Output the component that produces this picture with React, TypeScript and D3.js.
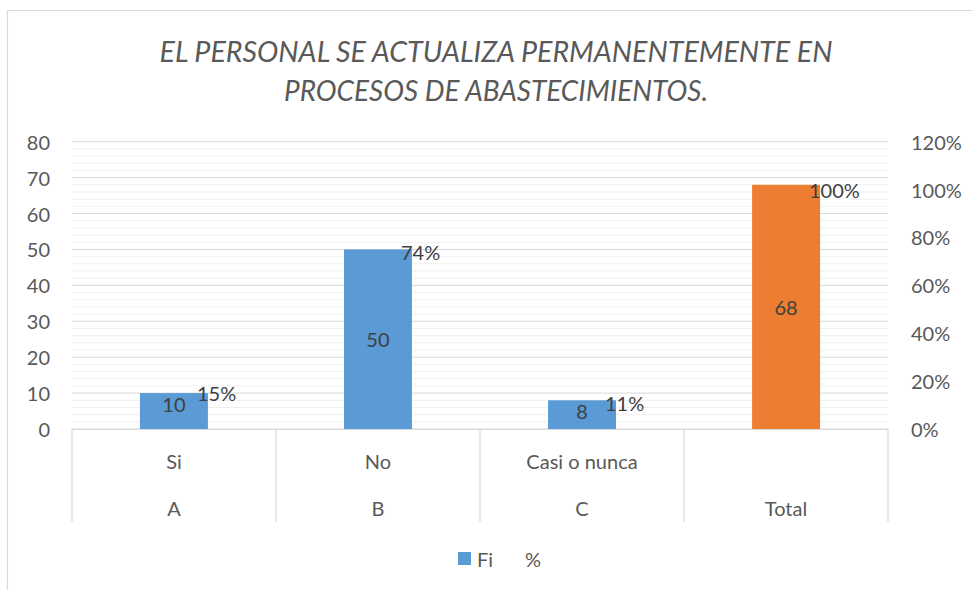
import React from "react";
import * as d3 from "d3";

const titleLines = ["EL PERSONAL SE ACTUALIZA PERMANENTEMENTE EN", "PROCESOS DE ABASTECIMIENTOS."];
const categories = ["Si", "No", "Casi o nunca", "Total"];
const innerLabels = ["Si", "No", "Casi o nunca", ""];
const groups = ["A", "B", "C", "Total"];
const fiValues = [10, 50, 8, 68];
const pctValues = [0.15, 0.74, 0.11, 1.0];
const pctLabels = ["15%", "74%", "11%", "100%"];
const leftTicks = [0, 10, 20, 30, 40, 50, 60, 70, 80];
const rightTicks = [0, 0.2, 0.4, 0.6, 0.8, 1.0, 1.2];
const legendItems = ["Fi", "%"];

const W = 972;
const H = 590;
const plot = { left: 72, right: 888, top: 141.7, bottom: 429 };
const FONT = "Lato, 'Open Sans', sans-serif";
const TXT = "#595959";
const LBL = "#404040";
const BLUE = "#5B9BD5";
const ORANGE = "#ED7D31";
const FS = 20;

export default function App() {
  const x = d3.scaleBand<string>().domain(categories).range([plot.left, plot.right]).paddingInner(0.667).paddingOuter(0.333);
  const xb = d3.scaleBand<string>().domain(categories).range([plot.left, plot.right]);
  const y = d3.scaleLinear().domain([0, 80]).range([plot.bottom, plot.top]);
  const y2 = d3.scaleLinear().domain([0, 1.2]).range([plot.bottom, plot.top]);
  const minor = d3.range(0, 81, 2).filter((v) => v % 10 !== 0);
  const axisBottom = 522;

  return (
    <svg width={W} height={H} style={{ position: "absolute", left: 0, top: 0, background: "#fff" }} fontFamily={FONT}>
      <rect x={0} y={0} width={W} height={H} fill="#fff" />
      <path d={`M7.5,${H} V10.5 H${W}`} fill="none" stroke="#d9d9d9" strokeWidth={1.2} />
      {titleLines.map((t, i) => (
        <text key={i} x={496} y={62 + i * 38.5} textAnchor="middle" fontSize={28} fontStyle="italic" fill={TXT}
          textLength={i === 0 ? 673 : 424} lengthAdjust="spacingAndGlyphs">{t}</text>
      ))}
      {minor.map((v) => (
        <line key={"m" + v} x1={plot.left} x2={plot.right} y1={y(v)} y2={y(v)} stroke="#f0f0f0" strokeWidth={1} />
      ))}
      {leftTicks.map((v) => (
        <line key={"g" + v} x1={plot.left} x2={plot.right} y1={y(v)} y2={y(v)} stroke="#d9d9d9" strokeWidth={1} />
      ))}
      {leftTicks.map((v) => (
        <text key={"l" + v} x={50} y={y(v)} textAnchor="end" dominantBaseline="central" fontSize={FS} fill={TXT}>{v}</text>
      ))}
      {rightTicks.map((v) => (
        <text key={"r" + v} x={911} y={y2(v)} textAnchor="start" dominantBaseline="central" fontSize={FS} fill={TXT}>
          {d3.format(".0%")(v)}
        </text>
      ))}
      {categories.map((c, i) => (
        <rect key={"b" + c} x={x(c)} y={y(fiValues[i])} width={x.bandwidth()} height={plot.bottom - y(fiValues[i])}
          fill={i === categories.length - 1 ? ORANGE : BLUE} />
      ))}
      {categories.map((c, i) => {
        const top = y(fiValues[i]);
        const h = plot.bottom - top;
        const cy = h < 40 ? top + 11 : top + h / 2;
        return (
          <text key={"v" + c} x={x(c)! + x.bandwidth() / 2} y={cy} textAnchor="middle" dominantBaseline="central" fontSize={FS} fill={LBL}>
            {fiValues[i]}
          </text>
        );
      })}
      {categories.map((c, i) => (
        <text key={"p" + c} x={xb(c)! + xb.bandwidth() / 2 + 23} y={y2(pctValues[i])} textAnchor="start" dominantBaseline="central" fontSize={FS} fill={LBL}>
          {pctLabels[i]}
        </text>
      ))}
      <line x1={plot.left} x2={plot.right} y1={plot.bottom + 0.5} y2={plot.bottom + 0.5} stroke="#d9d9d9" strokeWidth={1.2} />
      {d3.range(categories.length + 1).map((i) => {
        const xx = plot.left + i * xb.step();
        return <line key={"d" + i} x1={xx} x2={xx} y1={plot.bottom} y2={axisBottom} stroke="#d9d9d9" strokeWidth={1.2} />;
      })}
      {categories.map((c, i) => (
        <text key={"c" + c} x={xb(c)! + xb.bandwidth() / 2} y={461} textAnchor="middle" dominantBaseline="central" fontSize={FS} fill={TXT}>{innerLabels[i]}</text>
      ))}
      {categories.map((c, i) => (
        <text key={"g2" + c} x={xb(c)! + xb.bandwidth() / 2} y={508} textAnchor="middle" dominantBaseline="central" fontSize={FS} fill={TXT}>{groups[i]}</text>
      ))}
      <rect x={458} y={552} width={13} height={13} fill={BLUE} />
      <text x={477} y={558.5} dominantBaseline="central" fontSize={FS} fill={TXT}>{legendItems[0]}</text>
      <text x={525} y={558.5} dominantBaseline="central" fontSize={FS} fill={TXT}>{legendItems[1]}</text>
    </svg>
  );
}
